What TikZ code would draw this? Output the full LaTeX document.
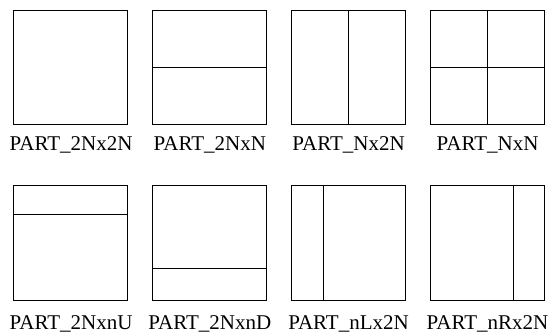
\documentclass[tikz,border=0pt]{standalone}
\usepackage{fontspec}
\setmainfont{Liberation Serif}
\begin{document}
\begin{tikzpicture}[x=1pt,y=-1pt,
  cell/.style={draw,line width=0.9pt,minimum width=114.3pt,minimum height=114.3pt,inner sep=0pt,outer sep=0pt},
  split/.style={line width=0.9pt},
  caption/.style={anchor=base,inner sep=0pt,font=\fontsize{21}{25}\selectfont}]
\useasboundingbox (0,0) rectangle (550,335);
% top row
\node[cell] (a) at (70.5,67.2) {};
\node[cell] (b) at (209.5,67.2) {};
\node[cell] (c) at (348.2,67.2) {};
\node[cell] (d) at (487.3,67.2) {};
% bottom row
\node[cell] (e) at (70.5,242.9) {};
\node[cell] (f) at (209.5,242.9) {};
\node[cell] (g) at (348.2,242.9) {};
\node[cell] (h) at (487.3,242.9) {};
% partition lines
\draw[split] (b.west) -- (b.east);
\draw[split] (c.north) -- (c.south);
\draw[split] (d.west) -- (d.east);
\draw[split] (d.north) -- (d.south);
\draw[split] ([yshift=-28.8pt]e.north west) -- ([yshift=-28.8pt]e.north east);
\draw[split] ([yshift=32pt]f.south west) -- ([yshift=32pt]f.south east);
\draw[split] ([xshift=32.3pt]g.north west) -- ([xshift=32.3pt]g.south west);
\draw[split] ([xshift=-30.8pt]h.north east) -- ([xshift=-30.8pt]h.south east);
% captions
\node[caption] (ta) at (71,150) {PART\_2Nx2N};
\node[caption] (tb) at (209.8,150) {PART\_2NxN};
\node[caption] (tc) at (348.5,150) {PART\_Nx2N};
\node[caption] (td) at (487.5,150) {PART\_NxN};
\node[caption] (te) at (71,329.5) {PART\_2NxnU};
\node[caption] (tf) at (209.8,329.5) {PART\_2NxnD};
\node[caption] (tg) at (348.5,329.5) {PART\_nLx2N};
\node[caption] (th) at (487.5,329.5) {PART\_nRx2N};
\end{tikzpicture}
\end{document}
